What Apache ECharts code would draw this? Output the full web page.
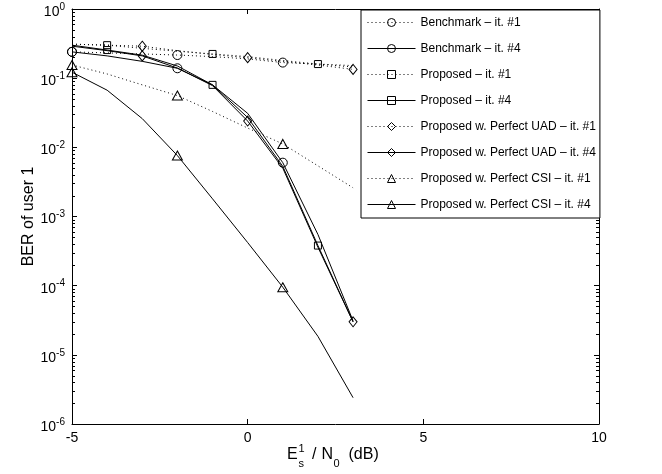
<!DOCTYPE html>
<html>
<head>
<meta charset="utf-8">
<script src="https://cdn.jsdelivr.net/npm/echarts@6/dist/echarts.min.js"></script>
<style>
html,body{margin:0;padding:0;background:#fff;}
#chart{width:662px;height:474px;}
</style>
</head>
<body>
<div id="chart"></div>
<script>
// ---- data ----
const xVals = [-5, -4, -3, -2, -1, 0, 1, 2, 3];
const xTicks = [-5, 0, 5, 10];
const yDecades = [-6, -5, -4, -3, -2, -1, 0];

const benchIt1 = [0.24, 0.232, 0.224, 0.216, 0.205, 0.19, 0.168, 0.16, 0.152];
const benchIt4 = [0.24, 0.21, 0.175, 0.139, 0.08, 0.031, 0.0060, 0.00055, 0.000031];
const propIt1 = [0.31, 0.30, 0.27, 0.245, 0.224, 0.205, 0.18, 0.160, 0.145];
const propIt4 = [0.30, 0.255, 0.215, 0.15, 0.080, 0.027, 0.0053, 0.00038, 0.000030];
const uadIt1 = [0.31, 0.30, 0.29, 0.25, 0.22, 0.198, 0.175, 0.155, 0.134];
const uadIt4 = [0.29, 0.25, 0.21, 0.14, 0.078, 0.024, 0.0050, 0.00036, 0.000030];
const csiIt1 = [0.155, 0.115, 0.080, 0.056, 0.033, 0.019, 0.0112, 0.0054, 0.0026];
const csiIt4 = [0.122, 0.067, 0.026, 0.0076, 0.0018, 0.00042, 0.000095, 0.0000185, 0.0000024];

const benchMarkerX = [-5, -2, 1];
const propMarkerX = [-4, -1, 2];
const uadMarkerX = [-3, 0, 3];
const csiMarkerX = [-5, -2, 1];

const names = [
  'Benchmark \u2013 it. #1', 'Benchmark \u2013 it. #4',
  'Proposed \u2013 it. #1', 'Proposed \u2013 it. #4',
  'Proposed w. Perfect UAD \u2013 it. #1', 'Proposed w. Perfect UAD \u2013 it. #4',
  'Proposed w. Perfect CSI \u2013 it. #1', 'Proposed w. Perfect CSI \u2013 it. #4'
];

const FONT = 'Liberation Sans, Arial, Helvetica, sans-serif';

function makeSeries(name, vals, dotted, symbol, size, markerX) {
  return {
    name: name,
    type: 'line',
    xAxisIndex: 0, yAxisIndex: 0,
    symbol: symbol,
    symbolSize: size,
    showAllSymbol: true,
    animation: false,
    data: xVals.map((x, i) => {
      const item = { value: [x, vals[i]] };
      if (markerX.indexOf(x) < 0) item.symbol = 'none';
      return item;
    }),
    lineStyle: { color: '#000', width: 1, type: dotted ? [1, 3] : 'solid' },
    itemStyle: { color: 'rgba(255,255,255,0)', borderColor: '#000', borderWidth: 1 },
    emphasis: { disabled: true },
    z: 3
  };
}

// minor tick positions of the log axis (2..9 x 10^d)
const minorTicks = [];
for (let d = -6; d < 0; d++) for (let k = 2; k <= 9; k++) minorTicks.push([-5, k * Math.pow(10, d)]);

const series = [
  makeSeries(names[0], benchIt1, true, 'circle', 9, benchMarkerX),
  makeSeries(names[1], benchIt4, false, 'circle', 9, benchMarkerX),
  makeSeries(names[2], propIt1, true, 'rect', 7, propMarkerX),
  makeSeries(names[3], propIt4, false, 'rect', 7, propMarkerX),
  makeSeries(names[4], uadIt1, true, 'diamond', [8, 10], uadMarkerX),
  makeSeries(names[5], uadIt4, false, 'diamond', [8, 10], uadMarkerX),
  makeSeries(names[6], csiIt1, true, 'triangle', [10, 9], csiMarkerX),
  makeSeries(names[7], csiIt4, false, 'triangle', [10, 9], csiMarkerX),
  {
    type: 'custom',
    silent: true,
    animation: false,
    xAxisIndex: 0, yAxisIndex: 0,
    clip: false,
    encode: { x: 0, y: 1 },
    data: minorTicks,
    renderItem: function (params, api) {
      const v = api.value(1);
      const pl = api.coord([-5, v]);
      const pr = api.coord([10, v]);
      const y = Math.round(pl[1]) + 0.5;
      return {
        type: 'group',
        children: [
          { type: 'line', shape: { x1: pl[0], y1: y, x2: pl[0] + 3, y2: y }, style: { stroke: '#000', lineWidth: 1 } },
          { type: 'line', shape: { x1: pr[0], y1: y, x2: pr[0] - 3, y2: y }, style: { stroke: '#000', lineWidth: 1 } }
        ]
      };
    },
    z: 2
  }
];

const chart = echarts.init(document.getElementById('chart'), null, { renderer: 'canvas' });

const yLabelFmt = function (v) {
  const e = Math.round(Math.log10(v));
  return '{b|10}{s|' + e + '}';
};

const titleStyle = { fontFamily: FONT, fill: '#000', verticalAlign: 'middle', align: 'left' };
function tText(x, y, text, size) {
  return { type: 'text', x: x, y: y, silent: true, style: Object.assign({ text: text, fontSize: size }, titleStyle) };
}

const option = {
  backgroundColor: '#fff',
  animation: false,
  textStyle: { fontFamily: FONT },
  grid: { left: 72, right: 63, top: 9, bottom: 50, containLabel: false, outerBoundsMode: 'none' },
  legend: {
    data: names,
    orient: 'vertical',
    left: 361,
    top: 10,
    padding: [5.5, 4, 6.5, 6],
    itemWidth: 48,
    itemHeight: 10,
    itemGap: 12,
    backgroundColor: '#fff',
    borderColor: '#000',
    borderWidth: 1,
    borderRadius: 0,
    selectedMode: false,
    inactiveColor: '#000',
    lineStyle: { width: 1 },
    itemStyle: { color: 'rgba(255,255,255,0)', borderColor: '#000', borderWidth: 1 },
    textStyle: { fontFamily: FONT, fontSize: 12, color: '#000', lineHeight: 14, padding: [0, 0, 0, 0] },
    z: 10
  },
  xAxis: [
    {
      type: 'value', position: 'bottom', min: -5, max: 10, interval: 5,
      axisLine: { show: true, onZero: false, lineStyle: { color: '#000', width: 1 } },
      axisTick: { show: true, inside: true, length: 5, lineStyle: { color: '#000' } },
      axisLabel: { show: true, color: '#000', fontSize: 14, fontFamily: FONT, margin: 7 },
      splitLine: { show: false }
    },
    {
      type: 'value', position: 'top', min: -5, max: 10, interval: 5,
      axisLine: { show: true, onZero: false, lineStyle: { color: '#000', width: 1 } },
      axisTick: { show: true, inside: true, length: 5, lineStyle: { color: '#000' } },
      axisLabel: { show: false },
      splitLine: { show: false }
    }
  ],
  yAxis: [
    {
      type: 'log', logBase: 10, min: 1e-6, max: 1, position: 'left',
      name: 'BER of user 1', nameLocation: 'middle', nameGap: 35, nameRotate: 90,
      nameMoveOverlap: false,
      nameTextStyle: { color: '#000', fontSize: 16, fontFamily: FONT },
      axisLine: { show: true, onZero: false, lineStyle: { color: '#000', width: 1 } },
      axisTick: { show: true, inside: true, length: 5, lineStyle: { color: '#000' } },
      axisLabel: {
        show: true, margin: 7, color: '#000', formatter: yLabelFmt,
        showMinLabel: true, showMaxLabel: true,
        rich: {
          b: { fontSize: 14, fontFamily: FONT, color: '#000', verticalAlign: 'bottom', padding: [6, 0, 0, 0] },
          s: { fontSize: 10, fontFamily: FONT, color: '#000', verticalAlign: 'bottom', padding: [0, 0, 7, 0] }
        }
      },
      splitLine: { show: false },
      minorTick: { show: false }
    },
    {
      type: 'log', logBase: 10, min: 1e-6, max: 1, position: 'right',
      axisLine: { show: true, onZero: false, lineStyle: { color: '#000', width: 1 } },
      axisTick: { show: true, inside: true, length: 5, lineStyle: { color: '#000' } },
      axisLabel: { show: false },
      splitLine: { show: false }
    }
  ],
  graphic: [
    tText(287, 454.5, 'E', 16),
    tText(298.5, 449, '1', 11),
    tText(298.5, 464, 's', 11),
    tText(312, 454.5, '/', 16),
    tText(321.5, 454.5, 'N', 16),
    tText(333.5, 464, '0', 11),
    tText(348.5, 454.5, '(dB)', 16)
  ],
  series: series
};

chart.setOption(option);
</script>
</body>
</html>
